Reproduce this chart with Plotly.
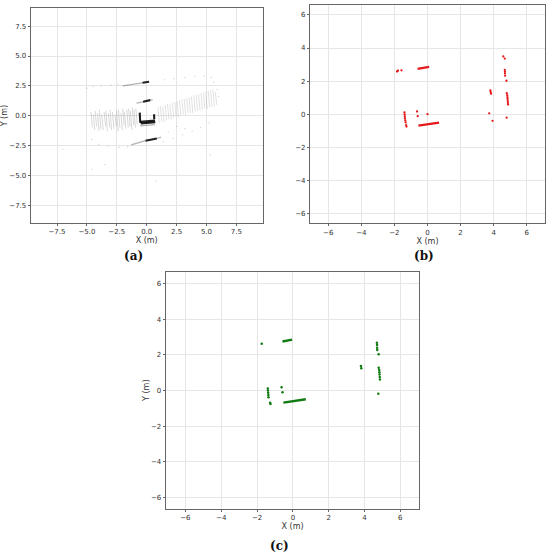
import plotly.graph_objects as go

# ---------------- panel (a): raw scan ----------------
# band of short near-vertical streaks, left of the sensor
left_x = [-4.6, -4.4, -4.25, -4.05, -3.9, -3.7, -3.5, -3.35, -3.15, -3.0, -2.8, -2.6,
          -2.45, -2.3, -2.1, -1.95, -1.8, -1.6, -1.45, -1.3, -1.15, -1.0, -0.85]
left_ylo = [-1.0, -1.2, -0.9, -1.3, -1.1, -1.2, -0.9, -1.3, -1.0, -1.2, -1.1, -0.9,
            -1.3, -1.0, -1.2, -0.8, -1.1, -1.0, -0.9, -1.2, -0.8, -1.0, -0.7]
left_yhi = [0.3, 0.1, 0.4, 0.2, 0.5, 0.1, 0.3, 0.4, 0.2, 0.5, 0.3, 0.1,
            0.4, 0.5, 0.2, 0.6, 0.3, 0.5, 0.6, 0.4, 0.7, 0.5, 0.6]
# band of streaks right of the sensor (tilted upward)
right_x = [1.0, 1.2, 1.4, 1.6, 1.8, 2.0, 2.2, 2.4, 2.6, 2.8, 3.0, 3.2, 3.4,
           3.6, 3.8, 4.0, 4.2, 4.4, 4.6, 4.8, 5.0, 5.2, 5.4, 5.6, 5.8]
right_ylo = [-0.6, -0.5, -0.55, -0.4, -0.3, -0.35, -0.2, -0.1, -0.15, 0.0, 0.1, 0.05, 0.2,
             0.25, 0.2, 0.35, 0.4, 0.45, 0.5, 0.6, 0.55, 0.7, 0.75, 0.8, 0.9]
right_yhi = [0.7, 0.8, 0.75, 0.9, 1.0, 0.95, 1.1, 1.15, 1.2, 1.3, 1.35, 1.4, 1.5,
             1.55, 1.6, 1.7, 1.75, 1.8, 1.9, 1.95, 2.0, 2.1, 2.15, 2.2, 2.0]
streak_tilt = 0.06

# dark wall returns near the sensor: (x0, y0, x1, y1)
dark_segs = [(-0.35, 2.76, 0.2, 2.84), (-0.3, 1.17, 0.3, 1.3),
             (-0.58, 0.25, -0.54, -0.6), (-0.54, -0.52, 0.7, -0.42),
             (-0.5, -0.66, 0.72, -0.56), (0.62, 0.12, 0.63, -0.3),
             (-0.1, -2.1, 0.85, -1.92)]
faint_segs = [(-2.0, 2.5, -0.35, 2.74), (-0.85, 1.05, -0.3, 1.16), (0.3, 1.3, 0.5, 1.34),
              (-1.3, -2.45, -0.1, -2.1), (0.85, -1.92, 1.2, -1.8),
              (-0.55, -0.85, 0.7, -0.75)]

# sparse outer returns
sparse_x = [-5.0, -4.5, -3.8, -3.0, -2.4, 1.5, 2.3, 3.2, 4.0, 4.8, 5.4, 5.6, 5.9, 6.0,
            -4.6, -4.0, -3.2, -2.3, -1.6, 1.4, 2.2, 3.0, 3.8, 4.5, 5.2,
            -4.6, 0.8, -3.5, 2.5, 3.2, 1.8, -7.0, 5.3, 0.28]
sparse_y = [2.3, 2.45, 2.5, 2.55, 2.6, 3.0, 3.1, 3.2, 3.3, 3.35, 3.2, 2.8, 2.2, 1.6,
            -2.0, -2.4, -2.55, -2.65, -2.6, -2.2, -1.9, -1.6, -1.3, -1.0, -0.6,
            -4.5, -5.5, -4.1, -0.9, -1.1, -1.4, -2.8, -3.3, -0.28]

# ---------------- panel (b): clustered points ----------------
b_x = [-1.84, -1.78, -1.57, -0.63, -0.59, 0.0, 3.73, 3.93, 3.80, 3.82, 3.84,
       4.58, 4.67, 4.67, 4.68, 4.68, 4.69, 4.77,
       4.79, 4.82, 4.83, 4.84, 4.85, 4.86, 4.87, 4.78,
       -1.39, -1.38, -1.37, -1.36, -1.34, -1.32, -1.29, -1.27]
b_y = [2.58, 2.63, 2.65, 0.16, -0.12, 0.0, 0.05, -0.40, 1.43, 1.33, 1.23,
       3.49, 3.36, 2.68, 2.57, 2.47, 2.33, 2.02,
       1.27, 1.15, 1.03, 0.92, 0.80, 0.68, 0.58, -0.21,
       0.10, -0.02, -0.14, -0.26, -0.38, -0.50, -0.66, -0.75]
b_segs = [(-0.60, 2.74, 0.10, 2.86), (-0.55, -0.69, 0.70, -0.51)]

# ---------------- panel (c): filtered points ----------------
c_x = [-1.74, -0.63, -0.58, 3.80, 3.82, 4.69, 4.70, 4.70, 4.71, 4.79,
       4.79, 4.82, 4.83, 4.84, 4.85, 4.86, 4.77,
       -1.40, -1.39, -1.38, -1.37, -1.36, -1.27, -1.25]
c_y = [2.62, 0.19, -0.10, 1.38, 1.25, 2.68, 2.55, 2.40, 2.27, 2.04,
       1.28, 1.15, 1.02, 0.90, 0.76, 0.62, -0.18,
       0.12, 0.0, -0.12, -0.25, -0.38, -0.68, -0.75]
c_segs = [(-0.58, 2.75, -0.04, 2.85), (-0.53, -0.68, 0.72, -0.49)]


def seg_xy(segs):
    xs, ys = [], []
    for x0, y0, x1, y1 in segs:
        xs += [x0, x1, None]
        ys += [y0, y1, None]
    return xs, ys


def streak_xy(xc, ylo, yhi):
    xs, ys = [], []
    for x, lo, hi in zip(xc, ylo, yhi):
        xs += [x - streak_tilt, x + streak_tilt, None]
        ys += [hi, lo, None]
    return xs, ys


fig = go.Figure()

sx, sy = streak_xy(left_x, left_ylo, left_yhi)
fig.add_trace(go.Scatter(x=sx, y=sy, mode="lines", xaxis="x", yaxis="y",
                         line=dict(color="rgba(0,0,0,0.2)", width=0.8)))
sx, sy = streak_xy(right_x, right_ylo, right_yhi)
fig.add_trace(go.Scatter(x=sx, y=sy, mode="lines", xaxis="x", yaxis="y",
                         line=dict(color="rgba(0,0,0,0.15)", width=0.8)))
sx, sy = seg_xy(faint_segs)
fig.add_trace(go.Scatter(x=sx, y=sy, mode="lines", xaxis="x", yaxis="y",
                         line=dict(color="rgba(0,0,0,0.3)", width=1.2)))
sx, sy = seg_xy(dark_segs)
fig.add_trace(go.Scatter(x=sx, y=sy, mode="lines", xaxis="x", yaxis="y",
                         line=dict(color="rgba(0,0,0,0.88)", width=2.1)))
fig.add_trace(go.Scatter(x=sparse_x, y=sparse_y, mode="markers", xaxis="x", yaxis="y",
                         marker=dict(color="rgba(0,0,0,0.18)", size=1.3)))

red = "#e41a1a"
sx, sy = seg_xy(b_segs)
fig.add_trace(go.Scatter(x=sx, y=sy, mode="lines", xaxis="x2", yaxis="y2",
                         line=dict(color=red, width=2.2)))
fig.add_trace(go.Scatter(x=b_x, y=b_y, mode="markers", xaxis="x2", yaxis="y2",
                         marker=dict(color=red, size=2.3)))

green = "#117a11"
sx, sy = seg_xy(c_segs)
fig.add_trace(go.Scatter(x=sx, y=sy, mode="lines", xaxis="x3", yaxis="y3",
                         line=dict(color=green, width=2.4)))
fig.add_trace(go.Scatter(x=c_x, y=c_y, mode="markers", xaxis="x3", yaxis="y3",
                         marker=dict(color=green, size=2.5)))

tick_font = dict(family="DejaVu Sans", size=7, color="#333")
title_font = dict(family="DejaVu Sans", size=8, color="#333")
ax_common = dict(showgrid=True, gridcolor="#e6e6e6", gridwidth=1, zeroline=False,
                 showline=True, linecolor="#666", linewidth=1, mirror=True,
                 ticks="outside", ticklen=2, tickcolor="#666", tickfont=tick_font,
                 automargin=False)

ticks_a = [-7.5, -5.0, -2.5, 0.0, 2.5, 5.0, 7.5]
ticks_bc = [-6, -4, -2, 0, 2, 4, 6]

fig.update_layout(
    width=550, height=558, margin=dict(l=0, r=0, t=0, b=0),
    paper_bgcolor="white", plot_bgcolor="white", showlegend=False,
    xaxis=dict(ax_common, domain=[0.0558, 0.4776], range=[-9.7, 9.7],
               tickvals=ticks_a, tickformat=".1f", anchor="y",
               title=dict(text="X (m)", font=title_font, standoff=0)),
    yaxis=dict(ax_common, domain=[0.6004, 0.9851], range=[-9.0, 9.0],
               tickvals=ticks_a, tickformat=".1f", anchor="x",
               title=dict(text="Y (m)", font=title_font, standoff=0)),
    xaxis2=dict(ax_common, domain=[0.5636, 0.9909], range=[-7.1, 7.1],
                tickvals=ticks_bc, anchor="y2",
                title=dict(text="X (m)", font=title_font, standoff=0)),
    yaxis2=dict(ax_common, domain=[0.5998, 0.9910], range=[-6.6, 6.6],
                tickvals=ticks_bc, anchor="x2"),
    xaxis3=dict(ax_common, domain=[0.3013, 0.7624], range=[-7.1, 7.06],
                tickvals=ticks_bc, anchor="y3",
                title=dict(text="X (m)", font=title_font, standoff=0)),
    yaxis3=dict(ax_common, domain=[0.0884, 0.5131], range=[-6.62, 6.66],
                tickvals=ticks_bc, anchor="x3",
                title=dict(text="Y (m)", font=title_font, standoff=0)),
)

cap_font = dict(family="DejaVu Serif", size=12, color="#111")
for label, cx, cy in [("<b>(a)</b>", 133, 256), ("<b>(b)</b>", 424, 256), ("<b>(c)</b>", 279, 546)]:
    fig.add_annotation(text=label, x=cx / 550, y=1 - cy / 558, xref="paper", yref="paper",
                       showarrow=False, font=cap_font, xanchor="center", yanchor="middle")

# page body has a default 8px margin; drop it so the figure fills the window
fig.write_html("out.html", config={"displayModeBar": False},
               post_script="document.body.style.margin='0';")
